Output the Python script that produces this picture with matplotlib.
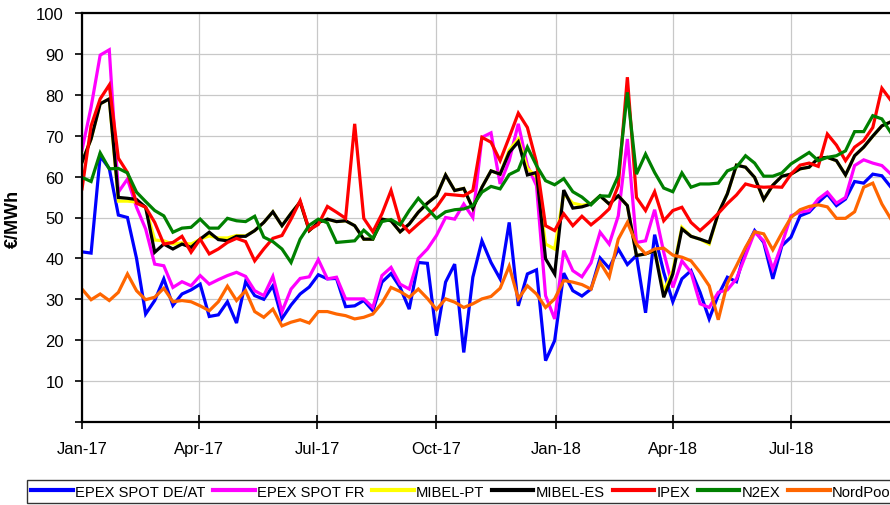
import numpy as np
import pandas as pd
import matplotlib
matplotlib.use('Agg')
import matplotlib.pyplot as plt
import matplotlib.dates as mdates
from matplotlib.ticker import FuncFormatter

plt.rcParams['font.family'] = ['Liberation Sans', 'DejaVu Sans']
plt.rcParams['figure.facecolor'] = 'white'
plt.rcParams['axes.facecolor'] = 'white'

# weekly prices, first week = Jan 2017
weeks = pd.date_range('2017-01-01', periods=90, freq='7D')

epex_de = [41.6, 41.3, 65, 62, 50.6, 50, 40, 26.4, 29.7, 35,
           28.5, 31.3, 32.3, 33.7, 25.8, 26.2, 29.4, 24.2, 34.3, 30.9,
           30, 33.3, 25.3, 28.6, 31.3, 33, 36, 35, 35.1, 28.2,
           28.4, 29.7, 27.2, 34.2, 36.3, 32.9, 27.6, 39, 38.8, 21.1,
           34.2, 38.6, 17, 35.4, 44.3, 39, 35, 48.8, 28.4, 36.2,
           37.2, 15, 19.9, 36.4, 32.1, 30.8, 32.5, 40.1, 37.6, 42.3,
           38.5, 40.7, 26.7, 45.8, 36.6, 29.4, 35, 37, 31.7, 25.2,
           31, 35.4, 34.3, 42.3, 46.8, 43.9, 35, 43.1, 45.2, 50.4,
           51.3, 53.7, 55.7, 52.9, 54.5, 58.8, 58.4, 60.6, 60.2, 57.4]

epex_fr = [66.5, 77, 89.7, 91, 56.2, 59.4, 52.5, 47.2, 38.6, 38.2,
           32.9, 34.3, 33.3, 35.8, 33.7, 34.8, 35.8, 36.6, 35.6, 32.1,
           30.9, 35.6, 27, 32.5, 35.1, 35.5, 39.7, 35, 35.4, 30.1,
           30.1, 30.1, 28, 35.8, 37.8, 33.7, 32.5, 40, 42.3, 45.6,
           50, 49.6, 53.3, 50, 69.6, 70.7, 58.2, 63.9, 72.9, 62.7,
           57.8, 30.9, 25.2, 41.9, 37, 35.5, 38.9, 46.4, 43.5, 50.4,
           69.2, 43.9, 44.3, 51.9, 41.5, 32.9, 39.4, 36.6, 28.9, 28,
           31.7, 32.3, 35, 40.7, 46.4, 44.3, 37.4, 43.5, 50.4, 51.3,
           51.7, 54.5, 56.2, 53.5, 54.9, 62.7, 64.1, 63.3, 62.7, 60.6]

mibel_pt = [63.5, 69.2, 77.8, 79, 54, 54, 53.8, 52.5, 44.5, 44.3,
            43.5, 43.8, 43.5, 44.7, 45.5, 45, 45, 45.6, 45.5, 46.8,
            48.8, 51.4, 48, 51, 53.8, 46.8, 48.8, 49.6, 49, 49.2,
            48, 44.7, 44.7, 49.6, 49.2, 46.5, 48.4, 51.3, 53.5, 55.3,
            60.4, 56.6, 57.1, 52.2, 57.4, 61.4, 60.6, 66.5, 69.2, 62,
            60, 43.5, 42.3, 55.8, 53.5, 53, 53.3, 55.3, 53.3, 55.3,
            52.9, 40.7, 41.1, 41.9, 32, 37, 47.6, 45.4, 44.7, 43.5,
            51, 55.8, 62.8, 62.3, 59.8, 54.4, 57.9, 60.1, 60.6, 61.9,
            62.3, 64.5, 64.7, 63.9, 60.4, 65.1, 67.2, 69.9, 72.4, 73.4]

mibel_es = [63.5, 69.2, 77.8, 79, 54.9, 54.7, 54.4, 52.5, 41.5, 43.5,
            42.3, 43.5, 42.7, 44.7, 46.4, 44.6, 44.3, 45.4, 45.4, 46.8,
            48.8, 51.4, 48, 51, 53.8, 46.8, 48.8, 49.6, 49, 49.2,
            48, 44.7, 44.7, 49.6, 49.2, 46.5, 48.4, 51.3, 53.5, 55.3,
            60.4, 56.6, 57.1, 52.2, 57.4, 61.4, 60.6, 65.9, 68.5, 60.4,
            61, 39.9, 36.2, 56.7, 52.3, 52.6, 53.3, 55.3, 53.3, 55.3,
            52.9, 40.7, 41.1, 41.9, 30.5, 36.2, 47.2, 45.4, 44.7, 43.9,
            51, 55.8, 62.8, 62.3, 59.8, 54.4, 57.9, 60.1, 60.6, 61.9,
            62.3, 64.5, 64.7, 63.9, 60.4, 65.1, 67.2, 69.9, 72.4, 73.4]

ipex = [57, 72.4, 79, 82.4, 64.5, 61, 53.5, 52.5, 48.8, 43.5,
        43.9, 45.4, 41.5, 44.7, 41.1, 42.3, 43.9, 44.9, 44.1, 39.4,
        42.3, 44.9, 45.6, 49.6, 54.1, 47, 48.3, 52.7, 51.3, 49.8,
        72.9, 49.8, 46.5, 50.9, 56.6, 48.8, 46.4, 48.4, 50.3, 52.5,
        55.7, 55.5, 55.3, 56.6, 69.6, 68.4, 63.9, 69.6, 75.5, 72,
        63.5, 48, 46.8, 50.9, 48, 50.3, 48.2, 50, 52.1, 57.8,
        84.3, 54.9, 51.7, 56.3, 49.2, 51.7, 52.5, 48.8, 46.8, 48.8,
        51, 53.4, 55.5, 58.2, 57.6, 57.4, 57.5, 57.4, 60.6, 62.8,
        63.3, 62.5, 70.4, 67.7, 63.9, 67.2, 68.8, 72, 81.6, 78.6]

n2ex = [59.8, 58.8, 65.8, 61.9, 62, 60.9, 56.2, 53.9, 51.7, 50.4,
        46.4, 47.4, 47.6, 49.6, 47.4, 47.4, 49.8, 49.2, 49, 50.3,
        45.2, 44.1, 42.3, 39, 44.7, 48.1, 49.6, 48.7, 43.9, 44.1,
        44.3, 46.9, 44.9, 49, 49.5, 48.2, 51.7, 54.7, 52.2, 49.8,
        51.4, 51.9, 52.1, 52.9, 56.2, 57.6, 57, 60.5, 61.6, 67.2,
        62.7, 59, 58, 59.5, 56.3, 55, 53.1, 55.3, 55.2, 60.2,
        80.6, 60.6, 65.5, 61, 57.2, 56.3, 60.9, 57.4, 58.2, 58.2,
        58.4, 61.4, 62.3, 65.1, 63.3, 60.1, 60.1, 60.9, 63.1, 64.5,
        65.9, 63.9, 64.7, 65.1, 66.3, 71, 71, 74.9, 74.1, 70.7]

nordpool = [32.5, 29.9, 31.3, 29.7, 31.7, 36.2, 32.1, 29.9, 30.5, 32.7,
            29.4, 29.7, 29.4, 28.4, 27.2, 29.4, 33.2, 29.7, 32.1, 27,
            25.6, 27.6, 23.5, 24.4, 25, 24.2, 27, 27, 26.4, 26,
            25.2, 25.6, 26.4, 29.1, 32.9, 31.9, 30.5, 32.5, 30.2, 27.5,
            30.1, 29.3, 28, 28.9, 30.1, 30.7, 32.7, 38.1, 30.1, 33.3,
            31.3, 28, 30.1, 34.6, 34.2, 33.6, 32.5, 39, 35.4, 44.7,
            48.8, 43.5, 41.1, 42.3, 42.5, 40.8, 40.3, 39.4, 36.6, 33.3,
            25, 33.9, 38.2, 42.7, 46.5, 46, 42.1, 46.2, 50, 51.9,
            52.7, 53.1, 52.6, 49.8, 49.8, 51.4, 57.4, 58.4, 53.3, 49.6]

series_names = ['EPEX SPOT DE/AT', 'EPEX SPOT FR', 'MIBEL-PT', 'MIBEL-ES',
                'IPEX', 'N2EX', 'NordPool']
series_values = [epex_de, epex_fr, mibel_pt, mibel_es, ipex, n2ex, nordpool]
series_colors = ['#0000FF', '#FF00FF', '#FFFF00', '#000000',
                 '#FF0000', '#008000', '#FF6600']

x_start = pd.Timestamp('2017-01-01')
x_end = pd.Timestamp('2018-09-30')

W, H = 890, 506
fig = plt.figure(figsize=(W / 100, H / 100), dpi=100)

# axes runs past the right edge of the picture, as in the original crop
px_per_day = 1.2985
ax_left, ax_top, ax_bottom = 82, 14, 423
ax_width = (x_end - x_start).days * px_per_day
ax = fig.add_axes([ax_left / W, 1 - ax_bottom / H,
                   ax_width / W, (ax_bottom - ax_top) / H])

handles = []
for name, vals, col in zip(series_names, series_values, series_colors):
    h, = ax.plot(weeks, vals, color=col, linewidth=2.3, label=name,
                 solid_joinstyle='miter')
    handles.append(h)

ax.set_xlim(x_start, x_end)
ax.set_ylim(0, 100)
ax.set_yticks(np.arange(0, 101, 10))
ax.yaxis.set_major_formatter(FuncFormatter(lambda v, p: '' if v == 0 else f'{v:.0f}'))

ax.xaxis.set_major_locator(mdates.MonthLocator(bymonth=[1, 4, 7, 10]))
ax.xaxis.set_major_formatter(mdates.DateFormatter('%b-%y'))

ax.grid(True, color='#c8c8c8', linewidth=0.9)
ax.set_axisbelow(True)

for side in ['left', 'bottom', 'top']:
    ax.spines[side].set_linewidth(1.6)
    ax.spines[side].set_color('black')
ax.spines['right'].set_visible(False)

ax.tick_params(axis='y', direction='out', length=5, width=1.2, labelsize=12, pad=8)
ax.tick_params(axis='x', direction='inout', length=10, width=1.2, labelsize=12, pad=9)

ax.set_ylabel('€/MWh', fontsize=13, fontweight='bold')
ax.yaxis.set_label_coords(-60 / ax_width, 0.5)

leg = fig.legend(handles=handles, loc='lower left', ncol=7,
                 bbox_to_anchor=(27 / W, 2 / H), fontsize=10.6,
                 frameon=True, fancybox=False, edgecolor='black',
                 handlelength=2.8, handletextpad=0.15, columnspacing=0.55,
                 borderpad=0.3, borderaxespad=0)
leg.get_frame().set_linewidth(1.0)
for line in leg.get_lines():
    line.set_linewidth(3)

fig.savefig('out.png', dpi=100)
